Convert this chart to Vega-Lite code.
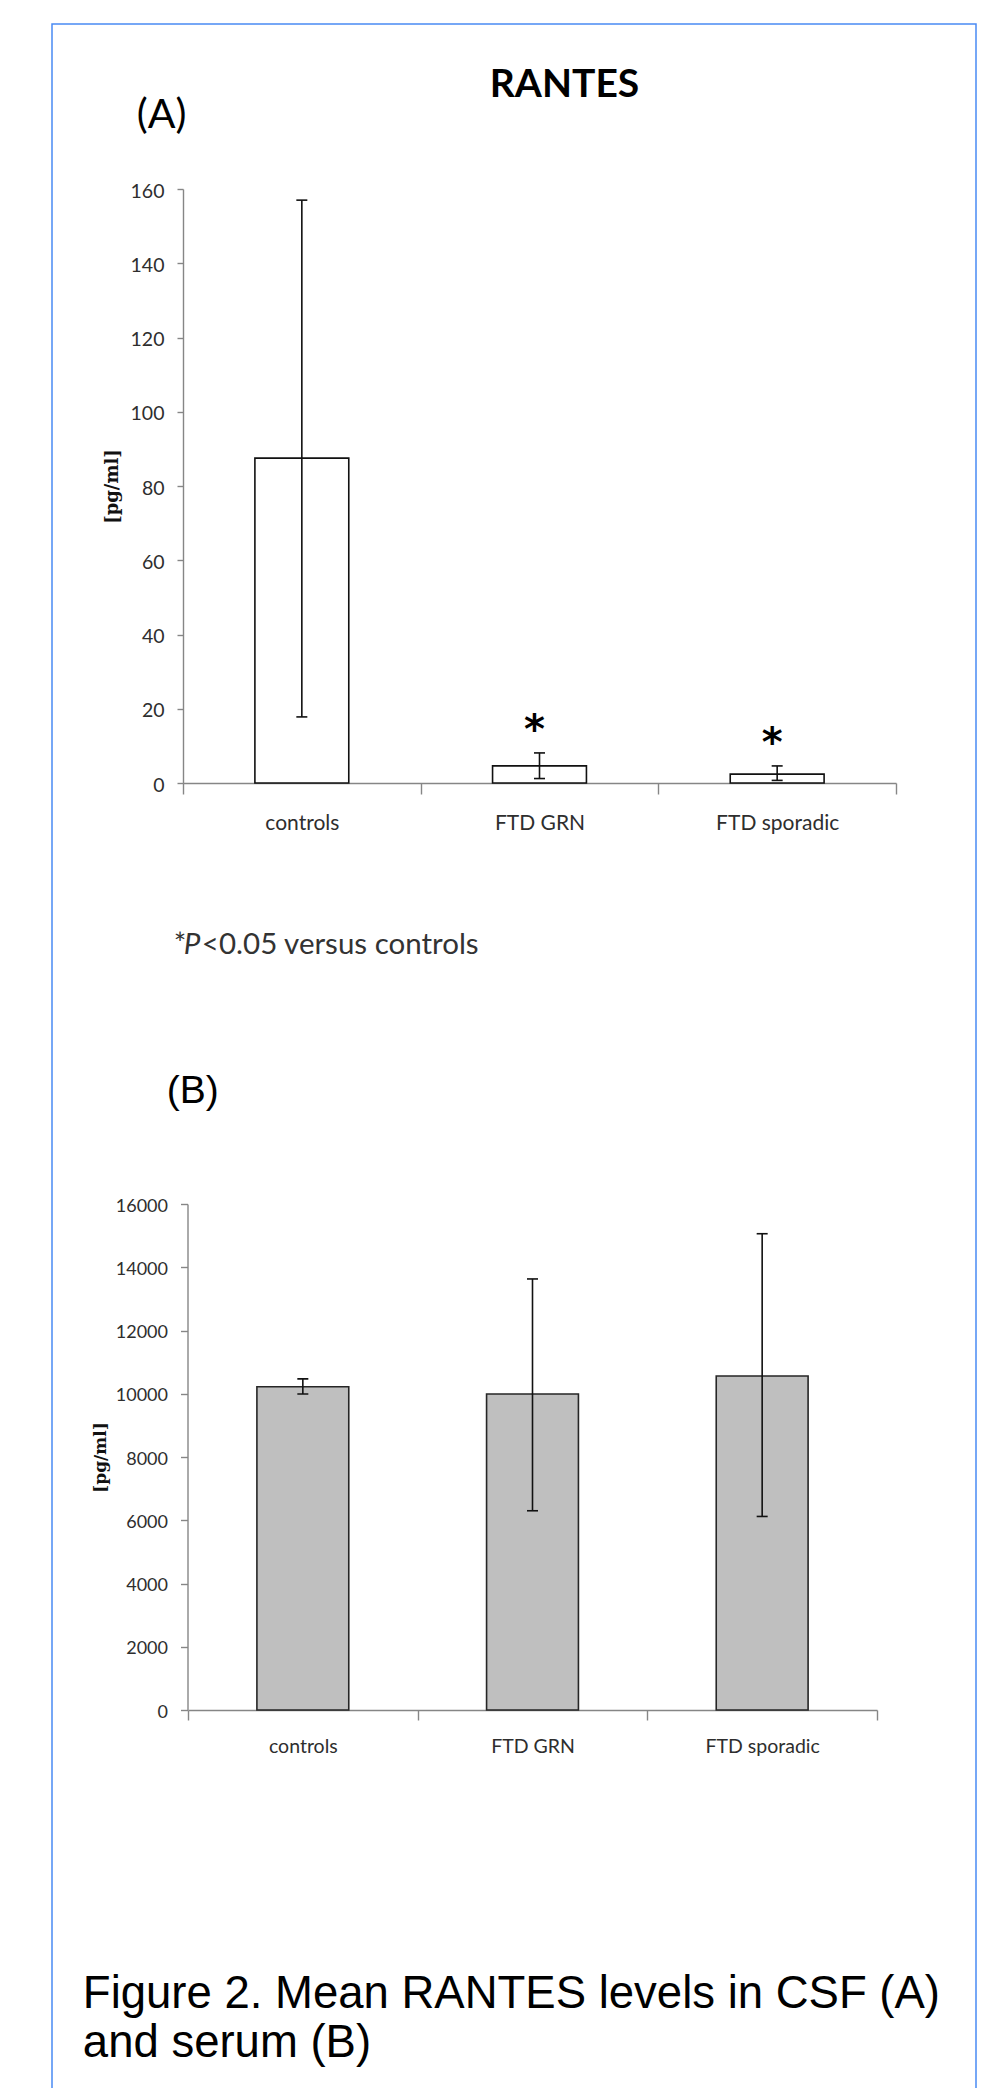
{
  "$schema": "https://vega.github.io/schema/vega-lite/v6.json",
  "width": 924,
  "height": 2074,
  "autosize": {"type": "none"},
  "padding": {"left": 52, "top": 24, "right": 16, "bottom": -10},
  "background": "white",
  "config": {
    "view": {"stroke": "#4a8af4", "strokeWidth": 1.5},
    "font": "Lato",
    "axis": {"grid": false, "domainColor": "#868686", "tickColor": "#868686", "domainWidth": 1.4, "tickWidth": 1.4, "labelColor": "#2e2e2e", "labelFont": "Lato"}
  },
  "layer": [
    {
      "data": {"values": [
        {"group": "controls", "mean": 87.5, "lo": 17.8, "hi": 157.0, "sig": ""},
        {"group": "FTD GRN", "mean": 4.6, "lo": 1.2, "hi": 8.1, "sig": "*"},
        {"group": "FTD sporadic", "mean": 2.4, "lo": 0.7, "hi": 4.6, "sig": "*"}
      ]},
      "layer": [
        {
          "mark": {"type": "bar", "fill": "white", "stroke": "#111111", "strokeWidth": 1.6, "width": {"band": 0.395}},
          "encoding": {
            "x": {"field": "group", "type": "nominal",
              "scale": {"domain": ["controls", "FTD GRN", "FTD sporadic"], "range": [131, 844], "paddingInner": 0, "paddingOuter": 0},
              "axis": {"orient": "bottom", "offset": -1315, "tickBand": "extent", "tickSize": 11, "labelPadding": 18, "labelFontSize": 21, "labelAngle": 0, "title": null}},
            "y": {"field": "mean", "type": "quantitative",
              "scale": {"domain": [0, 160], "range": [759, 165], "nice": false},
              "axis": {"orient": "left", "offset": -131, "values": [0, 20, 40, 60, 80, 100, 120, 140, 160], "tickSize": 6, "labelPadding": 13, "labelFontSize": 19.5, "labelOffset": 2, "title": "[pg/ml]", "titleFont": "DejaVu Serif", "titleFontWeight": "bold", "titleFontSize": 18, "titleColor": "#111111", "titlePadding": 9}}
          }
        },
        {
          "mark": {"type": "rule", "stroke": "#111111", "strokeWidth": 1.6},
          "encoding": {
            "x": {"field": "group", "type": "nominal"},
            "y": {"field": "lo", "type": "quantitative"},
            "y2": {"field": "hi"}
          }
        },
        {
          "mark": {"type": "tick", "size": 11, "thickness": 1.6, "color": "#111111", "opacity": 1},
          "encoding": {
            "x": {"field": "group", "type": "nominal"},
            "y": {"field": "lo", "type": "quantitative"}
          }
        },
        {
          "mark": {"type": "tick", "size": 11, "thickness": 1.6, "color": "#111111", "opacity": 1},
          "encoding": {
            "x": {"field": "group", "type": "nominal"},
            "y": {"field": "hi", "type": "quantitative"}
          }
        },
        {
          "mark": {"type": "text", "font": "DejaVu Sans", "fontWeight": "bold", "fontSize": 40, "color": "black", "baseline": "alphabetic", "dx": -5, "dy": -10},
          "encoding": {
            "x": {"field": "group", "type": "nominal"},
            "y": {"field": "hi", "type": "quantitative"},
            "text": {"field": "sig"}
          }
        },
        {
          "data": {"values": [{"label": "(A)"}]},
          "mark": {"type": "text", "align": "left", "baseline": "alphabetic", "dx": -165, "dy": -61, "font": "Lato", "fontSize": 41, "color": "black"},
          "encoding": {"x": {"datum": "controls", "type": "nominal"}, "y": {"datum": 160, "type": "quantitative"}, "text": {"field": "label"}}
        },
        {
          "data": {"values": [{"label": "RANTES"}]},
          "mark": {"type": "text", "align": "center", "baseline": "alphabetic", "dx": 25, "dy": -92, "font": "Lato", "fontWeight": "bold", "fontSize": 39, "color": "black"},
          "encoding": {"x": {"datum": "FTD GRN", "type": "nominal"}, "y": {"datum": 160, "type": "quantitative"}, "text": {"field": "label"}}
        },
        {
          "data": {"values": [{"label": "*"}]},
          "mark": {"type": "text", "align": "left", "baseline": "alphabetic", "dx": -128, "dy": 171, "font": "Lato", "fontSize": 29.5, "color": "#333333"},
          "encoding": {"x": {"datum": "controls", "type": "nominal"}, "y": {"datum": 0, "type": "quantitative"}, "text": {"field": "label"}}
        },
        {
          "data": {"values": [{"label": "P"}]},
          "mark": {"type": "text", "align": "left", "baseline": "alphabetic", "dx": -118, "dy": 171, "font": "Lato", "fontStyle": "italic", "fontSize": 29.5, "color": "#333333"},
          "encoding": {"x": {"datum": "controls", "type": "nominal"}, "y": {"datum": 0, "type": "quantitative"}, "text": {"field": "label"}}
        },
        {
          "data": {"values": [{"label": "<0.05 versus controls"}]},
          "mark": {"type": "text", "align": "left", "baseline": "alphabetic", "dx": -100, "dy": 171, "font": "Lato", "fontSize": 29.5, "color": "#333333"},
          "encoding": {"x": {"datum": "controls", "type": "nominal"}, "y": {"datum": 0, "type": "quantitative"}, "text": {"field": "label"}}
        }
      ]
    },
    {
      "data": {"values": [
        {"group": "controls", "mean": 10220, "lo": 9990, "hi": 10470},
        {"group": "FTD GRN", "mean": 9990, "lo": 6300, "hi": 13630},
        {"group": "FTD sporadic", "mean": 10560, "lo": 6120, "hi": 15060}
      ]},
      "layer": [
        {
          "mark": {"type": "bar", "fill": "#bfbfbf", "stroke": "#262626", "strokeWidth": 1.6, "width": {"band": 0.4}},
          "encoding": {
            "x": {"field": "group", "type": "nominal",
              "scale": {"domain": ["controls", "FTD GRN", "FTD sporadic"], "range": [136, 825], "paddingInner": 0, "paddingOuter": 0},
              "axis": {"orient": "bottom", "offset": -388, "tickBand": "extent", "tickSize": 10, "labelPadding": 17, "labelFontSize": 19.5, "labelAngle": 0, "title": null}},
            "y": {"field": "mean", "type": "quantitative",
              "scale": {"domain": [0, 16000], "range": [1686, 1180], "nice": false},
              "axis": {"orient": "left", "offset": -135.5, "values": [0, 2000, 4000, 6000, 8000, 10000, 12000, 14000, 16000], "format": "d", "tickSize": 7, "labelPadding": 13, "labelFontSize": 18, "labelOffset": 2, "title": "[pg/ml]", "titleFont": "DejaVu Serif", "titleFontWeight": "bold", "titleFontSize": 17, "titleColor": "#111111", "titlePadding": 6}}
          }
        },
        {
          "mark": {"type": "rule", "stroke": "#111111", "strokeWidth": 1.6},
          "encoding": {
            "x": {"field": "group", "type": "nominal"},
            "y": {"field": "lo", "type": "quantitative"},
            "y2": {"field": "hi"}
          }
        },
        {
          "mark": {"type": "tick", "size": 11, "thickness": 1.6, "color": "#111111", "opacity": 1},
          "encoding": {
            "x": {"field": "group", "type": "nominal"},
            "y": {"field": "lo", "type": "quantitative"}
          }
        },
        {
          "mark": {"type": "tick", "size": 11, "thickness": 1.6, "color": "#111111", "opacity": 1},
          "encoding": {
            "x": {"field": "group", "type": "nominal"},
            "y": {"field": "hi", "type": "quantitative"}
          }
        },
        {
          "data": {"values": [{"label": "(B)"}]},
          "mark": {"type": "text", "align": "left", "baseline": "alphabetic", "dx": -136, "dy": -101, "font": "Liberation Sans", "fontSize": 39, "color": "black"},
          "encoding": {"x": {"datum": "controls", "type": "nominal"}, "y": {"datum": 16000, "type": "quantitative"}, "text": {"field": "label"}}
        },
        {
          "data": {"values": [{"label": "Figure 2. Mean RANTES levels in CSF (A)"}]},
          "mark": {"type": "text", "align": "left", "baseline": "alphabetic", "dx": -220, "dy": 298, "font": "Liberation Sans", "fontSize": 45.5, "color": "black"},
          "encoding": {"x": {"datum": "controls", "type": "nominal"}, "y": {"datum": 0, "type": "quantitative"}, "text": {"field": "label"}}
        },
        {
          "data": {"values": [{"label": "and serum (B)"}]},
          "mark": {"type": "text", "align": "left", "baseline": "alphabetic", "dx": -220, "dy": 347, "font": "Liberation Sans", "fontSize": 45.5, "color": "black"},
          "encoding": {"x": {"datum": "controls", "type": "nominal"}, "y": {"datum": 0, "type": "quantitative"}, "text": {"field": "label"}}
        }
      ]
    }
  ],
  "resolve": {"scale": {"x": "independent", "y": "independent"}}
}
